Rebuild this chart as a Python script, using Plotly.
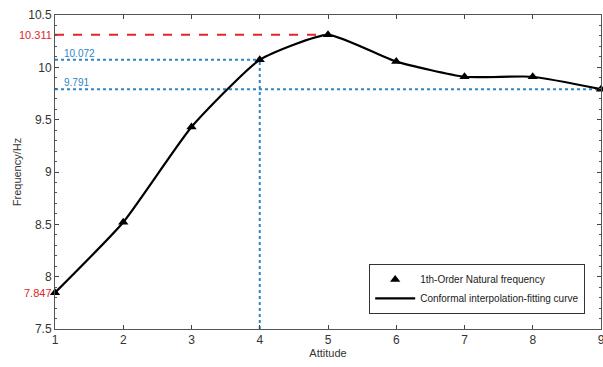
import plotly.graph_objects as go

attitude = [1, 2, 3, 4, 5, 6, 7, 8, 9]
frequency = [7.847, 8.52, 9.43, 10.072, 10.311, 10.055, 9.91, 9.91, 9.791]

peak_val = 10.311
mark4_val = 10.072
end_val = 9.791
start_val = 7.847

y_ticks = [7.5, 8, 8.5, 9, 9.5, 10, 10.5]
x_ticks = [1, 2, 3, 4, 5, 6, 7, 8, 9]

red = "#e0262b"
blue = "#2f86c6"
axis_col = "#555555"

fig = go.Figure()

fig.add_trace(go.Scatter(x=[1, 5], y=[peak_val, peak_val], mode="lines",
                         line=dict(color=red, width=2, dash="dash"), showlegend=False, hoverinfo="skip"))
fig.add_trace(go.Scatter(x=[1, 4], y=[mark4_val, mark4_val], mode="lines",
                         line=dict(color=blue, width=2, dash="dot"), showlegend=False, hoverinfo="skip"))
fig.add_trace(go.Scatter(x=[4, 4], y=[7.5, mark4_val], mode="lines",
                         line=dict(color=blue, width=2, dash="dot"), showlegend=False, hoverinfo="skip"))
fig.add_trace(go.Scatter(x=[1, 9], y=[end_val, end_val], mode="lines",
                         line=dict(color=blue, width=2, dash="dot"), showlegend=False, hoverinfo="skip"))

fig.add_trace(go.Scatter(x=attitude, y=frequency, mode="markers", name="1th-Order Natural frequency",
                         marker=dict(symbol="triangle-up", size=9, color="black"), cliponaxis=False))
fig.add_trace(go.Scatter(x=attitude, y=frequency, mode="lines", name="Conformal interpolation-fitting curve",
                         line=dict(color="black", width=2.2, shape="spline", smoothing=0.5)))

fig.add_annotation(x=0, xref="paper", y=peak_val, yref="y", text=str(peak_val), showarrow=False,
                   xanchor="right", xshift=-1, font=dict(color=red, size=11))
fig.add_annotation(x=0, xref="paper", y=start_val, yref="y", text=str(start_val), showarrow=False,
                   xanchor="right", xshift=-1, font=dict(color=red, size=11))
fig.add_annotation(x=1.1, y=mark4_val, text=str(mark4_val), showarrow=False, xanchor="left",
                   yanchor="bottom", yshift=-1, font=dict(color=blue, size=10))
fig.add_annotation(x=1.1, y=end_val, text=str(end_val), showarrow=False, xanchor="left",
                   yanchor="bottom", yshift=-1, font=dict(color=blue, size=10))

fig.update_layout(
    width=603, height=367,
    margin=dict(l=55, r=2, t=15, b=38, autoexpand=False),
    paper_bgcolor="white", plot_bgcolor="white",
    font=dict(family="Liberation Sans, Arial, sans-serif", size=12, color="#333333"),
    legend=dict(x=0.971, y=0.048, xanchor="right", yanchor="bottom",
                bordercolor="#333333", borderwidth=1, bgcolor="white",
                font=dict(size=10, color="#222222"), tracegroupgap=0, itemwidth=40),
)
fig.update_xaxes(range=[1, 9], tickvals=x_ticks, ticks="inside", ticklen=4, automargin=False,
                 ticklabeloverflow="allow",
                 showline=True, linecolor=axis_col, mirror="ticks", showgrid=False, zeroline=False,
                 title=dict(text="Attitude", standoff=2, font=dict(size=11)))
fig.update_yaxes(range=[7.5, 10.5], tickvals=y_ticks, ticktext=["7.5", "8", "8.5", "9", "9.5", "10", "10.5"],
                 ticks="inside", ticklen=4, automargin=False,
                 minor=dict(ticks="inside", ticklen=2, dtick=0.1, tickcolor=axis_col),
                 showline=True, linecolor=axis_col, mirror="ticks", showgrid=False, zeroline=False,
                 title=dict(text="Frequency/Hz", standoff=4, font=dict(size=11)))

fig.write_html("out.html", config={"displayModeBar": False},
               post_script="document.body.style.margin='0';document.body.style.overflow='hidden';")
